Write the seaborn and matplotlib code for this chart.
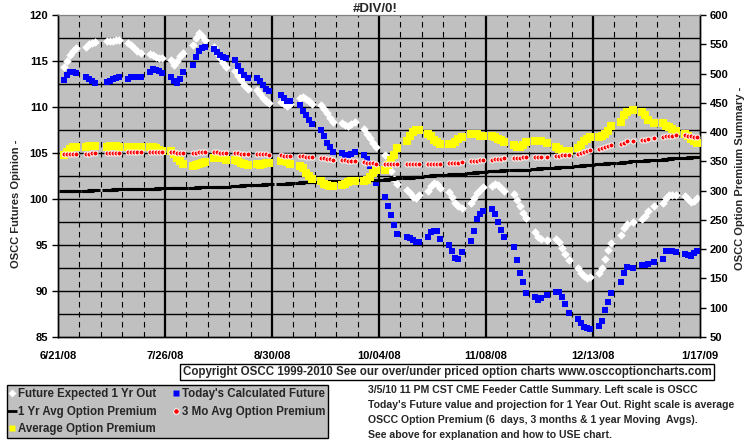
import numpy as np
import pandas as pd
import matplotlib
matplotlib.use("Agg")
import matplotlib.pyplot as plt
import seaborn as sns
from matplotlib.lines import Line2D

# trading days 6/23/08 - 1/16/09 (exchange holidays dropped)
holidays = ["2008-07-04", "2008-09-01", "2008-11-27", "2008-12-25", "2009-01-01"]
days = pd.bdate_range("2008-06-23", "2009-01-16")
days = days[~days.isin(pd.to_datetime(holidays))]

# left scale - futures opinion
future_1yr = [114.4, 115.0, 115.6, 116.1, 116.4,
              116.5, 116.8, 117.0, 117.1,
              117.2, 117.2, 117.2, 117.3, 117.3,
              117.0, 116.7, 116.4, 116.1, 115.9,
              115.8, 115.6, 115.4, 115.3, 115.3,
              115.1, 114.6, 115.0, 115.5, 115.9,
              116.7, 117.5, 118.0, 117.7, 117.3,
              116.5, 115.9, 115.3, 114.8, 114.3,
              113.9, 113.4, 112.9, 112.4, 112.0,
              111.8, 111.4, 111.0, 110.6, 110.4,
              110.5, 110.3, 110.1, 110.3,
              111.0, 111.1, 110.9, 110.6, 110.3,
              110.2, 109.8, 109.3, 108.8, 108.4,
              108.3, 108.0, 107.9, 108.1, 108.4,
              107.6, 107.1, 106.6, 106.1, 105.7,
              104.8, 104.0, 103.0, 102.2, 101.6,
              101.0, 100.6, 100.2, 100.1, 100.4,
              100.9, 101.4, 101.7, 101.6, 101.2,
              100.8, 100.2, 99.6, 99.2, 99.0,
              99.6, 100.1, 100.6, 101.0, 101.3,
              101.4, 101.6, 101.5, 101.2, 100.9,
              100.5, 99.9, 99.2, 98.5, 97.9,
              96.4, 95.9, 95.6, 95.5,
              95.7, 95.3, 94.7, 94.0, 93.4,
              92.5, 92.0, 91.6, 91.4, 91.5,
              92.0, 92.5, 93.5, 94.5, 95.2,
              96.1, 96.9, 97.3, 97.5,
              97.8, 98.2, 98.7, 99.2,
              99.6, 100.1, 100.4, 100.4, 100.4,
              100.3, 100.0, 99.7, 99.8, 100.1]

todays_future = [112.9, 113.5, 113.8, 113.8, 113.7,
                 113.3, 113.0, 112.8, 112.6,
                 112.7, 112.8, 113.0, 113.2, 113.3,
                 113.0, 113.3, 113.3, 113.3, 113.3,
                 113.8, 114.1, 114.0, 113.9, 113.7,
                 113.3, 112.8, 112.6, 113.0, 113.8,
                 114.6, 115.4, 116.1, 116.4, 116.5,
                 116.3, 116.0, 115.7, 115.4, 115.3,
                 115.1, 114.5, 113.9, 113.5, 113.2,
                 113.1, 112.8, 112.4, 112.0, 111.7,
                 111.3, 111.0, 110.7, 110.6,
                 110.2, 109.6, 109.1, 108.6, 108.2,
                 107.5, 106.8, 106.1, 105.6, 105.1,
                 105.0, 104.8, 104.8, 104.9, 105.1,
                 104.8, 104.3, 103.6, 102.7, 101.7,
                 100.2, 99.2, 98.3, 97.2, 96.2,
                 95.9, 95.8, 95.5, 95.3, 95.3,
                 95.9, 96.4, 96.5, 96.5, 95.7,
                 95.0, 94.3, 93.6, 93.5, 94.2,
                 95.4, 96.5, 97.8, 98.4, 98.7,
                 98.9, 98.4, 97.5, 96.6, 95.9,
                 94.8, 93.4, 92.0, 91.0, 89.8,
                 89.3, 89.0, 89.2, 89.6,
                 89.9, 89.9, 89.3, 88.6, 87.6,
                 87.0, 86.5, 86.1, 86.0, 85.9,
                 86.2, 86.7, 87.9, 88.8, 89.8,
                 91.0, 92.0, 92.6, 92.5,
                 92.8, 92.8, 92.9, 93.2,
                 93.5, 94.4, 94.4, 94.3, 94.2,
                 94.0, 93.9, 93.8, 94.1, 94.4]

# right scale - option premium
avg_premium = [361, 366, 371, 374, 374,
               374, 377, 377, 377,
               375, 377, 377, 377, 375,
               375, 375, 375, 375, 374,
               374, 374, 372, 369, 367,
               367, 363, 356, 350, 345,
               342, 344, 345, 347, 349,
               356, 358, 356, 355, 352,
               353, 350, 347, 345, 344,
               345, 344, 345, 347, 347,
               350, 350, 349, 345,
               342, 338, 330, 325, 320,
               317, 312, 309, 308, 308,
               309, 311, 314, 316, 316,
               316, 319, 323, 330, 336,
               336, 344, 352, 361, 372,
               385, 394, 400, 404, 404,
               397, 393, 386, 383, 380,
               380, 380, 383, 388, 391,
               396, 397, 396, 394, 393,
               393, 391, 389, 386, 383,
               378, 374, 374, 378, 383,
               385, 385, 385, 382,
               374, 371, 367, 367, 367,
               372, 378, 385, 389, 392,
               392, 394, 397, 402, 410,
               418, 429, 435, 437,
               435, 429, 421, 416,
               415, 411, 408, 405, 402,
               397, 393, 388, 384, 381]

avg_3mo = [362, 362, 362, 362, 363,
           363, 363, 364, 364,
           364, 364, 365, 365, 365,
           366, 366, 366, 366, 366,
           366, 366, 366, 366, 366,
           366, 366, 365, 365, 364,
           365, 365, 366, 366, 366,
           366, 366, 365, 365, 364,
           364, 364, 363, 363, 363,
           362, 362, 362, 362, 361,
           361, 360, 360, 359,
           359, 359, 358, 358, 357,
           356, 355, 354, 354, 353,
           352, 352, 351, 351, 350,
           349, 348, 348, 347, 346,
           346, 346, 346, 345, 345,
           345, 345, 345, 345, 345,
           345, 345, 346, 346, 346,
           347, 347, 348, 348, 349,
           350, 350, 351, 352, 352,
           353, 354, 354, 354, 355,
           355, 355, 356, 357, 357,
           358, 358, 358, 358,
           360, 360, 361, 361, 361,
           362, 364, 366, 367, 369,
           371, 372, 374, 376, 378,
           380, 382, 384, 385,
           386, 387, 389, 390,
           392, 393, 394, 394, 395,
           395, 394, 393, 392, 391]

avg_1yr = [300, 300, 300, 300, 300,
           300, 300, 301, 301,
           301, 301, 301, 302, 302,
           302, 302, 302, 303, 303,
           303, 303, 303, 304, 304,
           304, 304, 304, 305, 305,
           305, 305, 306, 306, 306,
           306, 307, 307, 307, 307,
           308, 308, 308, 309, 309,
           310, 310, 310, 311, 311,
           312, 312, 312, 313,
           313, 314, 314, 314, 315,
           315, 315, 316, 316, 316,
           316, 317, 317, 317, 318,
           318, 318, 318, 319, 319,
           319, 320, 320, 321, 321,
           322, 322, 323, 323, 324,
           325, 325, 326, 326, 327,
           327, 328, 328, 329, 329,
           330, 330, 331, 331, 332,
           333, 333, 334, 334, 335,
           335, 335, 336, 336, 336,
           337, 337, 338, 338,
           339, 340, 340, 341, 341,
           342, 342, 343, 343, 344,
           345, 346, 346, 347, 347,
           348, 349, 349, 350,
           351, 351, 352, 352,
           353, 354, 354, 355, 355,
           356, 356, 357, 357, 357]

tick_dates = ["2008-06-21", "2008-07-26", "2008-08-30", "2008-10-04",
              "2008-11-08", "2008-12-13", "2009-01-17"]
tick_labels = ["6/21/08", "7/26/08", "8/30/08", "10/04/08",
               "11/08/08", "12/13/08", "1/17/09"]

df = pd.DataFrame({"date": days, "future_1yr": future_1yr, "todays": todays_future,
                   "avg": avg_premium, "mo3": avg_3mo, "yr1": avg_1yr})

sns.set_style("white")
plt.rcParams['font.family'] = ['Liberation Sans', 'DejaVu Sans']
plt.rcParams['font.weight'] = 'bold'

fig = plt.figure(figsize=(7.55, 4.46), dpi=100)
ax = fig.add_axes([58 / 755, 1 - 337 / 446, 642 / 755, 322 / 446])
ax.set_facecolor("#C0C0C0")
ax2 = ax.twinx()

t0 = pd.Timestamp(tick_dates[0])
t1 = pd.Timestamp(tick_dates[-1])

# grid: horizontal every 2.5, dashed weekly, solid every 5 weeks
for y in np.arange(87.5, 120, 2.5):
    ax.axhline(y, color="black", lw=1, zorder=0.5)
for d in pd.date_range(t0, t1, freq="7D")[1:-1]:
    if d.strftime("%Y-%m-%d") in tick_dates:
        ax.axvline(d, color="black", lw=1.6, zorder=0.5)
    else:
        ax.axvline(d, color="black", lw=0.8, ls=(0, (5, 4)), zorder=0.5)

sns.scatterplot(data=df, x="date", y="future_1yr", ax=ax, marker="D", s=19,
                color="white", linewidth=0, zorder=3)
sns.scatterplot(data=df, x="date", y="todays", ax=ax, marker="s", s=21,
                color="#0000FF", linewidth=0, zorder=4)

ax2.plot(df["date"], df["yr1"], ls="none", marker="_", ms=7, mew=2.2, color="black", zorder=2)
sns.scatterplot(data=df, x="date", y="avg", ax=ax2, marker="s", s=27,
                color="#FFFF00", linewidth=0, zorder=3)
sns.scatterplot(data=df, x="date", y="mo3", ax=ax2, marker="o", s=13,
                color="#FF0000", edgecolor="white", linewidth=0.7, zorder=4)

ax.set_xlim(t0, t1)
ax.set_ylim(85, 120)
ax2.set_ylim(50, 600)
ax.set_yticks(np.arange(85, 121, 5))
ax2.set_yticks(np.arange(50, 601, 50))
ax.set_xticks(pd.to_datetime(tick_dates))
ax.set_xticklabels(tick_labels)
ax.set_xlabel("")
ax.set_ylabel("")
ax2.set_ylabel("")

for a in (ax, ax2):
    a.tick_params(direction="out", length=4, width=1, colors="black", labelsize=8, pad=3)
    for s in ["left", "right", "bottom"]:
        a.spines[s].set_color("black")
        a.spines[s].set_linewidth(1)
    a.spines["top"].set_color("#808080")
ax.tick_params(axis="x", pad=6)

fig.text(375 / 755, 1 - 9 / 446, "#DIV/0!", ha="center", va="center", fontsize=9.5)
fig.text(16 / 755, 1 - 204 / 446, "OSCC Futures Opinion -", rotation=90,
         ha="center", va="center", fontsize=8)
fig.text(740 / 755, 1 - 178 / 446, "OSCC Option Premium Summary -", rotation=90,
         ha="center", va="center", fontsize=8)

fig.text(447 / 755, 1 - 372 / 446,
         "Copyright OSCC 1999-2010 See our over/under priced option charts www.osccoptioncharts.com",
         ha="center", va="center", fontsize=8.3,
         bbox=dict(boxstyle="square,pad=0.2", fc="white", ec="black", lw=1))

notes = ["3/5/10 11 PM CST CME Feeder Cattle Summary. Left scale is OSCC",
         "Today's Future value and projection for 1 Year Out. Right scale is average",
         "OSCC Option Premium (6  days, 3 months & 1 year Moving  Avgs).",
         "See above for explanation and how to USE chart."]
for i, line in enumerate(notes):
    fig.text(368 / 755, 1 - (390 + 15 * i) / 446, line, ha="left", va="center", fontsize=7.6)

handles = [Line2D([], [], ls="none", marker="D", ms=4, color="white", mec="none"),
           Line2D([], [], ls="none", marker="_", ms=7, mew=2, color="black"),
           Line2D([], [], ls="none", marker="s", ms=4, color="#FFFF00", mec="none"),
           Line2D([], [], ls="none", marker="s", ms=4, color="#0000FF", mec="none"),
           Line2D([], [], ls="none", marker="o", ms=4, color="#FF0000", mec="white", mew=0.7)]
labels = ["Future Expected 1 Yr Out", "1 Yr Avg Option Premium", "Average Option Premium",
          "Today's Calculated Future", "3 Mo Avg Option Premium"]
leg = fig.legend(handles, labels, loc="lower left", bbox_to_anchor=(7 / 755, 8 / 446),
                 ncol=2, fontsize=8.3, frameon=True, fancybox=False, framealpha=1,
                 facecolor="#C0C0C0", edgecolor="black", handlelength=0.5,
                 handletextpad=0.2, columnspacing=1.5, labelspacing=0.5,
                 borderpad=0.22, borderaxespad=0)
leg.get_frame().set_linewidth(1)

fig.savefig("out.png", dpi=100)
